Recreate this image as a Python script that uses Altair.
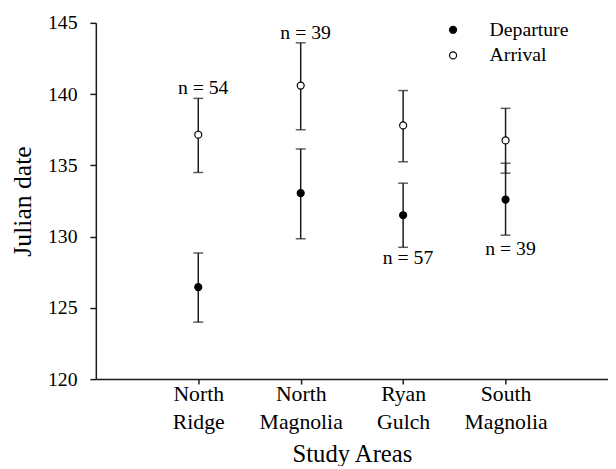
import altair as alt
import pandas as pd

sites = ["North Ridge", "North Magnolia", "Ryan Gulch", "South Magnolia"]
groups = ["Departure", "Arrival"]

dep_mean = [126.45, 133.05, 131.5, 132.6]
dep_low = [124.0, 129.85, 129.25, 130.1]
dep_high = [128.85, 136.15, 133.75, 135.15]

arr_mean = [137.15, 140.6, 137.8, 136.75]
arr_low = [134.5, 137.5, 135.25, 134.45]
arr_high = [139.7, 143.6, 140.25, 139.0]

n_text = ["n = 54", "n = 39", "n = 57", "n = 39"]
n_pos = [140.4, 144.3, 128.5, 129.1]

y_ticks = [120, 125, 130, 135, 140, 145]

rows = []
for i, s in enumerate(sites):
    rows.append(dict(site=s, group="Departure", mean=dep_mean[i], lo=dep_low[i], hi=dep_high[i]))
    rows.append(dict(site=s, group="Arrival", mean=arr_mean[i], lo=arr_low[i], hi=arr_high[i]))
df = pd.DataFrame(rows)
lab = pd.DataFrame(dict(site=sites, text=n_text, ypos=n_pos))

FONT = "Liberation Serif"
INK = "#1a1a1a"

xscale = alt.Scale(type="point", domain=sites, padding=1.0, align=0.5)
yscale = alt.Scale(domain=[120, 145], nice=False, zero=False)

xaxis = alt.Axis(
    title="Study Areas", labelAngle=0, labelExpr="split(datum.label, ' ')",
    labelFontSize=22, labelLineHeight=28, titleFontSize=25, labelPadding=0,
    tickSize=5, titlePadding=9,
)
yaxis = alt.Axis(
    title="Julian date", values=y_ticks, labelFontSize=20, titleFontSize=26,
    tickSize=6, labelPadding=13, titlePadding=12,
)

X = alt.X("site:N", scale=xscale, sort=sites, axis=xaxis)

base = alt.Chart(df)

rules = base.mark_rule(color=INK, strokeWidth=1.5).encode(
    x=X, y=alt.Y("lo:Q", scale=yscale, axis=yaxis, title="Julian date"), y2="hi:Q"
)
cap_lo = base.mark_tick(color=INK, thickness=1.5, size=10, orient="horizontal").encode(
    x=X, y=alt.Y("lo:Q", scale=yscale, axis=yaxis, title="Julian date")
)
cap_hi = base.mark_tick(color=INK, thickness=1.5, size=10, orient="horizontal").encode(
    x=X, y=alt.Y("hi:Q", scale=yscale, axis=yaxis, title="Julian date")
)
points = base.mark_point(shape="circle", filled=True, size=50, stroke="black",
                         strokeWidth=1.2, opacity=1, fillOpacity=1).encode(
    x=X,
    y=alt.Y("mean:Q", scale=yscale, axis=yaxis, title="Julian date"),
    fill=alt.Fill("group:N", scale=alt.Scale(domain=groups, range=["black", "white"]),
                  legend=alt.Legend(
                      orient="none", legendX=352, legendY=-3, title=None,
                      labelFont=FONT, labelFontSize=20, labelColor="black",
                      symbolType="circle", symbolSize=50, symbolStrokeColor="black",
                      symbolStrokeWidth=1.2, labelOffset=27, rowPadding=6, padding=0,
                  )),
)
labels = alt.Chart(lab).mark_text(font=FONT, fontSize=20, color="black", dx=5,
                                  baseline="middle").encode(
    x=X, y=alt.Y("ypos:Q", scale=yscale, axis=yaxis, title="Julian date"), text="text:N"
)

chart = alt.layer(rules, cap_lo, cap_hi, points, labels).properties(
    width=519, height=361,
    autosize=alt.AutoSizeParams(type="none"),
    padding={"left": 89, "top": 12, "right": 0, "bottom": 85},
).configure_view(stroke=None).configure_axis(
    grid=False, domainColor=INK, domainWidth=1.5, tickColor=INK, tickWidth=1.5,
    labelColor="black", titleColor="black", labelFont=FONT, titleFont=FONT,
    titleFontWeight="normal",
)

chart.save("out.html", embed_options={"renderer": "svg", "actions": False})
